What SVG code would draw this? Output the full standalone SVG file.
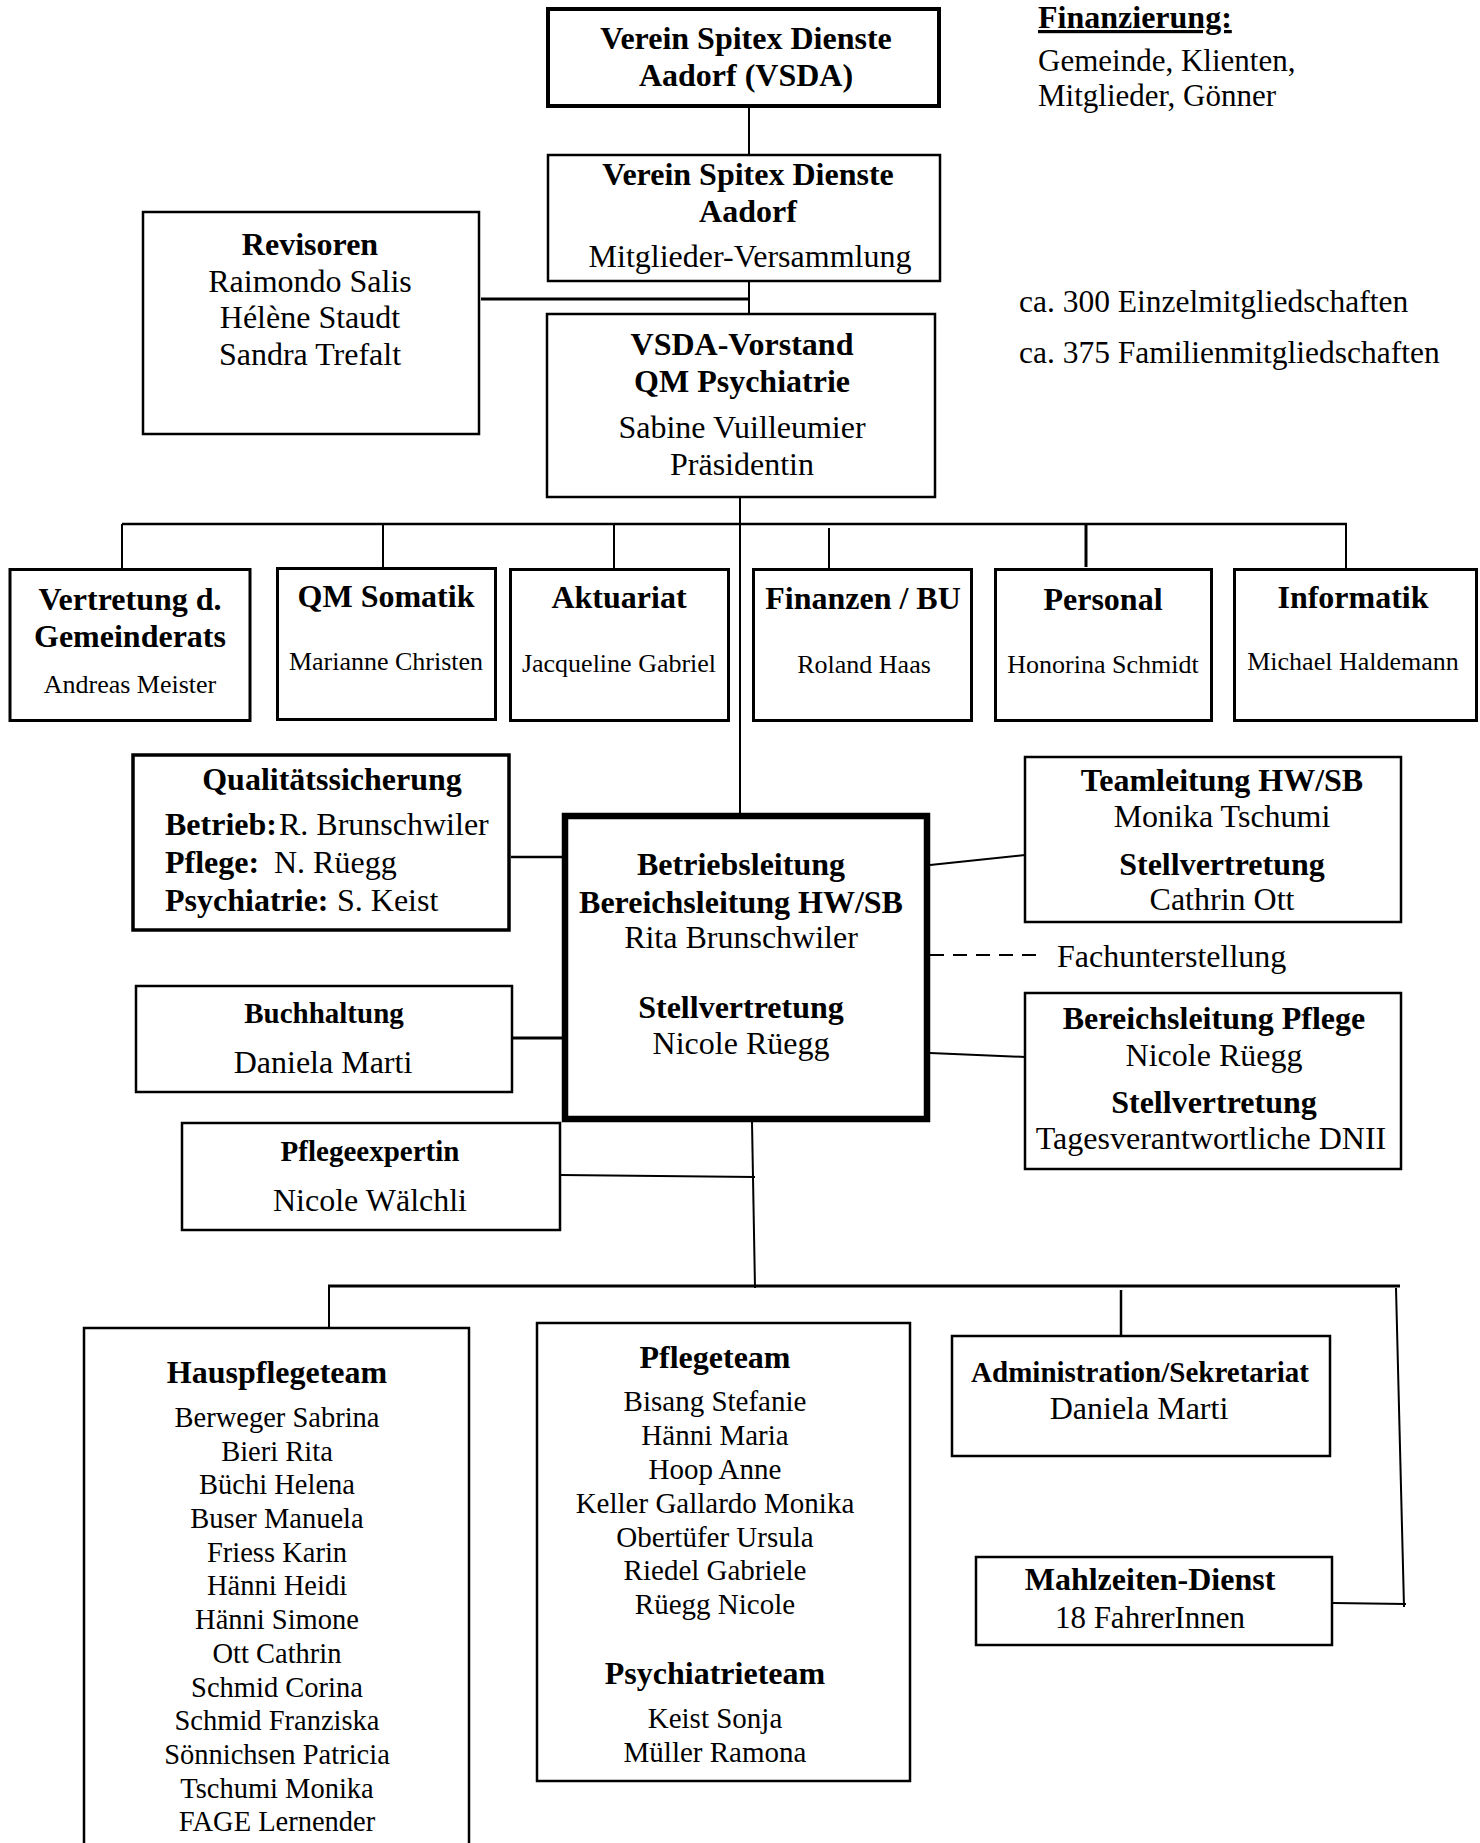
<svg xmlns="http://www.w3.org/2000/svg" width="1480" height="1843" viewBox="0 0 1480 1843">
<style>
  .box{fill:#fff;stroke:#000;stroke-width:2.5}
  .t{font-family:"Liberation Serif","Times New Roman",serif;fill:#000;font-size:32px}
  .b{font-weight:bold}
  .c{text-anchor:middle}
  .s26{font-size:26px}
  .s28{font-size:28.5px}
  .s29{font-size:29px}
  .ln{stroke:#000;stroke-width:2;fill:none}
</style>
<rect width="1480" height="1843" fill="#fff"/>

<g id="connectors">
  <line class="ln" x1="749" y1="108" x2="749" y2="154"/>
  <line class="ln" x1="749" y1="282" x2="749" y2="313"/>
  <line class="ln" x1="481" y1="299" x2="749" y2="299" style="stroke-width:3"/>
  <line class="ln" x1="740" y1="498" x2="740" y2="813"/>
  <line class="ln" x1="122" y1="524" x2="1347" y2="524" style="stroke-width:2.5"/>
  <line class="ln" x1="122" y1="524" x2="122" y2="568"/>
  <line class="ln" x1="383" y1="524" x2="383" y2="567"/>
  <line class="ln" x1="614" y1="524" x2="614" y2="568"/>
  <line class="ln" x1="829" y1="528" x2="829" y2="568"/>
  <line class="ln" x1="1086" y1="524" x2="1086" y2="567" style="stroke-width:3"/>
  <line class="ln" x1="1346" y1="524" x2="1346" y2="568"/>
  <line class="ln" x1="511" y1="857" x2="563" y2="857" style="stroke-width:2.5"/>
  <line class="ln" x1="513" y1="1038" x2="562" y2="1038" style="stroke-width:3"/>
  <line class="ln" x1="930" y1="865" x2="1025" y2="855"/>
  <line class="ln" x1="930" y1="955" x2="1036" y2="955" stroke-dasharray="14 9"/>
  <line class="ln" x1="930" y1="1053" x2="1025" y2="1057"/>
  <line class="ln" x1="561" y1="1175" x2="755" y2="1177"/>
  <line class="ln" x1="752" y1="1122" x2="755" y2="1288"/>
  <line class="ln" x1="328" y1="1286" x2="1400" y2="1286" style="stroke-width:3"/>
  <line class="ln" x1="329" y1="1286" x2="329" y2="1328"/>
  <line class="ln" x1="1121" y1="1290" x2="1121" y2="1336" style="stroke-width:2.5"/>
  <line class="ln" x1="1396" y1="1288" x2="1404" y2="1607"/>
  <line class="ln" x1="1333" y1="1603" x2="1406" y2="1604"/>
</g>

<g id="finanzierung">
  <text class="t b" x="1038" y="28" text-decoration="underline">Finanzierung:</text>
  <text class="t" x="1038" y="71" style="font-size:31px">Gemeinde, Klienten,</text>
  <text class="t" x="1038" y="106" style="font-size:31px">Mitglieder, Gönner</text>
</g>

<g id="mitgliedschaften">
  <text class="t" x="1019" y="312" style="font-size:31.5px">ca. 300 Einzelmitgliedschaften</text>
  <text class="t" x="1019" y="363" style="font-size:31.5px">ca. 375 Familienmitgliedschaften</text>
</g>

<g id="vsda">
  <rect class="box" x="548" y="9" width="391" height="97" style="stroke-width:4"/>
  <text class="t b c" x="746" y="49">Verein Spitex Dienste</text>
  <text class="t b c" x="746" y="86">Aadorf (VSDA)</text>
</g>

<g id="versammlung">
  <rect class="box" x="548" y="155" width="392" height="126"/>
  <text class="t b c" x="748" y="185">Verein Spitex Dienste</text>
  <text class="t b c" x="748" y="222">Aadorf</text>
  <text class="t c" x="750" y="267">Mitglieder-Versammlung</text>
</g>

<g id="revisoren">
  <rect class="box" x="143" y="212" width="336" height="222"/>
  <text class="t b c" x="310" y="255">Revisoren</text>
  <text class="t c" x="310" y="292">Raimondo Salis</text>
  <text class="t c" x="310" y="328">Hélène Staudt</text>
  <text class="t c" x="310" y="365">Sandra Trefalt</text>
</g>

<g id="vorstand">
  <rect class="box" x="547" y="314" width="388" height="183"/>
  <text class="t b c" x="742" y="355">VSDA-Vorstand</text>
  <text class="t b c" x="742" y="392">QM Psychiatrie</text>
  <text class="t c" x="742" y="438">Sabine Vuilleumier</text>
  <text class="t c" x="742" y="475">Präsidentin</text>
</g>

<g id="gemeinderat">
  <rect class="box" x="10" y="569.5" width="240" height="151" style="stroke-width:3"/>
  <text class="t b c" x="130" y="610">Vertretung d.</text>
  <text class="t b c" x="130" y="647">Gemeinderats</text>
  <text class="t s26 c" x="130" y="693">Andreas Meister</text>
</g>

<g id="qm-somatik">
  <rect class="box" x="277.5" y="568.5" width="218" height="151" style="stroke-width:3"/>
  <text class="t b c" x="386" y="607">QM Somatik</text>
  <text class="t s26 c" x="386" y="670">Marianne Christen</text>
</g>

<g id="aktuariat">
  <rect class="box" x="510.5" y="569.5" width="218" height="151" style="stroke-width:3"/>
  <text class="t b c" x="619" y="608">Aktuariat</text>
  <text class="t s26 c" x="619" y="672">Jacqueline Gabriel</text>
</g>

<g id="finanzen">
  <rect class="box" x="753.5" y="569.5" width="218" height="151" style="stroke-width:3"/>
  <text class="t b c" x="863" y="609">Finanzen / BU</text>
  <text class="t s26 c" x="864" y="673">Roland Haas</text>
</g>

<g id="personal">
  <rect class="box" x="995.5" y="569.5" width="216" height="151" style="stroke-width:3"/>
  <text class="t b c" x="1103" y="610">Personal</text>
  <text class="t s26 c" x="1103" y="673">Honorina Schmidt</text>
</g>

<g id="informatik">
  <rect class="box" x="1234.5" y="569.5" width="242" height="151" style="stroke-width:3"/>
  <text class="t b c" x="1353" y="608">Informatik</text>
  <text class="t s26 c" x="1353" y="670">Michael Haldemann</text>
</g>

<g id="qualitaet">
  <rect class="box" x="133" y="755" width="376" height="175" style="stroke-width:3.5"/>
  <text class="t b c" x="332" y="790">Qualitätssicherung</text>
  <text class="t" y="835"><tspan class="b" x="165">Betrieb:</tspan><tspan x="279">R. Brunschwiler</tspan></text>
  <text class="t" y="873"><tspan class="b" x="165">Pflege:</tspan><tspan x="274">N. Rüegg</tspan></text>
  <text class="t" y="911"><tspan class="b" x="165">Psychiatrie:</tspan><tspan x="337">S. Keist</tspan></text>
</g>

<g id="betriebsleitung">
  <rect class="box" x="565" y="816" width="362" height="303" style="stroke-width:6.5"/>
  <text class="t b c" x="741" y="875">Betriebsleitung</text>
  <text class="t b c" x="741" y="913">Bereichsleitung HW/SB</text>
  <text class="t c" x="741" y="948">Rita Brunschwiler</text>
  <text class="t b c" x="741" y="1018">Stellvertretung</text>
  <text class="t c" x="741" y="1054">Nicole Rüegg</text>
</g>

<g id="teamleitung">
  <rect class="box" x="1025" y="757" width="376" height="165"/>
  <text class="t b c" x="1222" y="791">Teamleitung HW/SB</text>
  <text class="t c" x="1222" y="827">Monika Tschumi</text>
  <text class="t b c" x="1222" y="875">Stellvertretung</text>
  <text class="t c" x="1222" y="910">Cathrin Ott</text>
</g>

<g id="fachunterstellung">
  <text class="t" x="1057" y="967">Fachunterstellung</text>
</g>

<g id="buchhaltung">
  <rect class="box" x="136" y="986" width="376" height="106"/>
  <text class="t s29 b c" x="324" y="1023">Buchhaltung</text>
  <text class="t c" x="323" y="1073">Daniela Marti</text>
</g>

<g id="bereichsleitung-pflege">
  <rect class="box" x="1025" y="993" width="376" height="176"/>
  <text class="t b c" x="1214" y="1029">Bereichsleitung Pflege</text>
  <text class="t c" x="1214" y="1066">Nicole Rüegg</text>
  <text class="t b c" x="1214" y="1113">Stellvertretung</text>
  <text class="t c" x="1211" y="1149">Tagesverantwortliche DNII</text>
</g>

<g id="pflegeexpertin">
  <rect class="box" x="182" y="1123" width="378" height="107"/>
  <text class="t s29 b c" x="370" y="1161">Pflegeexpertin</text>
  <text class="t c" x="370" y="1211">Nicole Wälchli</text>
</g>

<g id="hauspflegeteam">
  <rect class="box" x="84" y="1328" width="385" height="600"/>
  <text class="t b c" x="277" y="1383">Hauspflegeteam</text>
  <g class="t s28 c">
    <text x="277" y="1427">Berweger Sabrina</text>
    <text x="277" y="1461">Bieri Rita</text>
    <text x="277" y="1494">Büchi Helena</text>
    <text x="277" y="1528">Buser Manuela</text>
    <text x="277" y="1562">Friess Karin</text>
    <text x="277" y="1595">Hänni Heidi</text>
    <text x="277" y="1629">Hänni Simone</text>
    <text x="277" y="1663">Ott Cathrin</text>
    <text x="277" y="1697">Schmid Corina</text>
    <text x="277" y="1730">Schmid Franziska</text>
    <text x="277" y="1764">Sönnichsen Patricia</text>
    <text x="277" y="1798">Tschumi Monika</text>
    <text x="277" y="1831">FAGE Lernender</text>
  </g>
</g>

<g id="pflegeteam">
  <rect class="box" x="537" y="1323" width="373" height="458"/>
  <text class="t b c" x="715" y="1368">Pflegeteam</text>
  <g class="t s29 c">
    <text x="715" y="1411">Bisang Stefanie</text>
    <text x="715" y="1445">Hänni Maria</text>
    <text x="715" y="1479">Hoop Anne</text>
    <text x="715" y="1513">Keller Gallardo Monika</text>
    <text x="715" y="1547">Obertüfer Ursula</text>
    <text x="715" y="1580">Riedel Gabriele</text>
    <text x="715" y="1614">Rüegg Nicole</text>
  </g>
  <text class="t b c" x="715" y="1684">Psychiatrieteam</text>
  <g class="t s29 c">
    <text x="715" y="1728">Keist Sonja</text>
    <text x="715" y="1762">Müller Ramona</text>
  </g>
</g>

<g id="administration">
  <rect class="box" x="952" y="1336" width="378" height="120"/>
  <text class="t s29 b c" x="1140" y="1382">Administration/Sekretariat</text>
  <text class="t c" x="1139" y="1419">Daniela Marti</text>
</g>

<g id="mahlzeiten">
  <rect class="box" x="976" y="1557" width="356" height="88"/>
  <text class="t b c" x="1150" y="1590">Mahlzeiten-Dienst</text>
  <text class="t c" x="1150" y="1628" style="font-size:31px">18 FahrerInnen</text>
</g>
</svg>
